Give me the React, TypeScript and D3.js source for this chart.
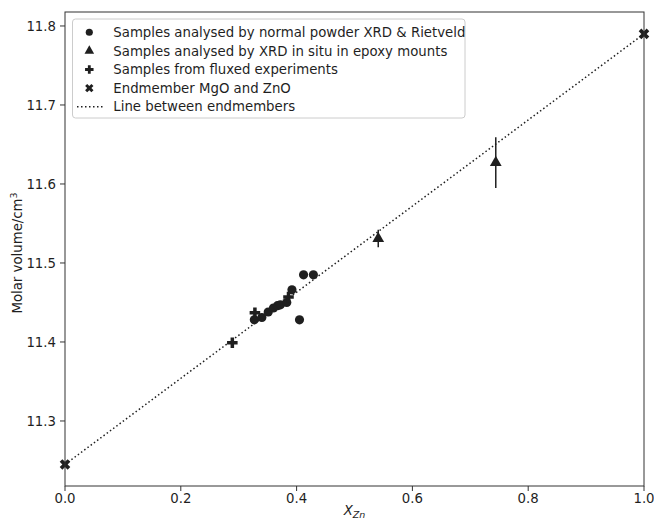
import React from "react";
import * as d3 from "d3";

const circleX = [0.327, 0.34, 0.351, 0.36, 0.367, 0.372, 0.383, 0.392, 0.405, 0.412, 0.429];
const circleY = [11.428, 11.431, 11.438, 11.443, 11.446, 11.447, 11.45, 11.466, 11.428, 11.485, 11.485];

const triX = [0.541, 0.744];
const triY = [11.531, 11.627];
const triErr = [0.011, 0.032];

const plusX = [0.289, 0.328, 0.386];
const plusY = [11.399, 11.437, 11.457];

const endX = [0, 1];
const endY = [11.245, 11.79];

const xTicks = [0, 0.2, 0.4, 0.6, 0.8, 1.0];
const yTicks = [11.3, 11.4, 11.5, 11.6, 11.7, 11.8];

const legendLabels = [
  "Samples analysed by normal powder XRD & Rietveld",
  "Samples analysed by XRD in situ in epoxy mounts",
  "Samples from fluxed experiments",
  "Endmember MgO and ZnO",
  "Line between endmembers",
];

const W = 654;
const H = 521;
const M = { left: 65, right: 644, top: 12, bottom: 486 };
const INK = "#1f1f1f";
const FONT = "DejaVu Sans, sans-serif";
const FS = 13.3;

export default function App() {
  const x = d3.scaleLinear().domain([0, 1]).range([M.left, M.right]);
  const y = d3.scaleLinear().domain([11.2177, 11.8177]).range([M.bottom, M.top]);

  const circ = d3.symbol().type(d3.symbolCircle).size(66)()!;
  const tri = d3.symbol().type(d3.symbolTriangle).size(60)()!;
  const cross = d3.symbol().type(d3.symbolCross).size(62)()!;
  const xs = d3.symbol().type(d3.symbolCross).size(70)()!;

  const line = d3.line<number>().x((_, i) => x(endX[i])).y((v) => y(v));

  const legX = 72.5;
  const legY = 19;
  const rowH = 18.6;

  return (
    <svg width={W} height={H} style={{ position: "absolute", left: 0, top: 0, fontFamily: FONT }}>
      <rect x={0} y={0} width={W} height={H} fill="#fff" />
      <path d={line(endY)!} fill="none" stroke={INK} strokeWidth={1.5} strokeDasharray="1.5,2.5" />
      {triX.map((v, i) => (
        <line key={"e" + i} x1={x(v)} x2={x(v)} y1={y(triY[i] - triErr[i])} y2={y(triY[i] + triErr[i])} stroke={INK} strokeWidth={1.5} />
      ))}
      {circleX.map((v, i) => (
        <path key={"c" + i} d={circ} transform={`translate(${x(v)},${y(circleY[i])})`} fill={INK} />
      ))}
      {triX.map((v, i) => (
        <path key={"t" + i} d={tri} transform={`translate(${x(v)},${y(triY[i])})`} fill={INK} />
      ))}
      {plusX.map((v, i) => (
        <path key={"p" + i} d={cross} transform={`translate(${x(v)},${y(plusY[i])})`} fill={INK} />
      ))}
      {endX.map((v, i) => (
        <path key={"x" + i} d={xs} transform={`translate(${x(v)},${y(endY[i])}) rotate(45)`} fill={INK} />
      ))}
      <rect x={M.left} y={M.top} width={M.right - M.left} height={M.bottom - M.top} fill="none" stroke="#333" strokeWidth={1} />
      {xTicks.map((t) => (
        <g key={"xt" + t}>
          <line x1={x(t)} x2={x(t)} y1={M.bottom} y2={M.bottom + 5} stroke="#333" />
          <text x={x(t)} y={503} textAnchor="middle" fontSize={FS} fill={INK}>
            {t.toFixed(1)}
          </text>
        </g>
      ))}
      {yTicks.map((t) => (
        <g key={"yt" + t}>
          <line x1={M.left - 5} x2={M.left} y1={y(t)} y2={y(t)} stroke="#333" />
          <text x={56} y={y(t)} dy="0.36em" textAnchor="end" fontSize={FS} fill={INK}>
            {t.toFixed(1)}
          </text>
        </g>
      ))}
      <text x={(M.left + M.right) / 2} y={515} textAnchor="middle" fontSize={FS} fill={INK}>
        <tspan fontStyle="italic">X</tspan>
        <tspan fontStyle="italic" fontSize={9.5} dy={3}>Zn</tspan>
      </text>
      <text transform={`translate(22,${(M.top + M.bottom) / 2 + 4}) rotate(-90)`} textAnchor="middle" fontSize={FS} fill={INK}>
        Molar volume/cm<tspan fontSize={9.5} dy={-5}>3</tspan>
      </text>
      <rect x={legX} y={legY} width={392.5} height={99} rx={3} fill="#fff" fillOpacity={0.8} stroke="#ccc" strokeWidth={1} />
      {legendLabels.map((lab, i) => {
        const cy = legY + 13.3 + i * rowH;
        const mx = 89.3;
        let marker: React.ReactNode = null;
        if (i === 0) marker = <path d={d3.symbol().type(d3.symbolCircle).size(40)()!} transform={`translate(${mx},${cy})`} fill={INK} />;
        if (i === 1) marker = <path d={d3.symbol().type(d3.symbolTriangle).size(40)()!} transform={`translate(${mx},${cy})`} fill={INK} />;
        if (i === 2) marker = <path d={d3.symbol().type(d3.symbolCross).size(40)()!} transform={`translate(${mx},${cy})`} fill={INK} />;
        if (i === 3) marker = <path d={d3.symbol().type(d3.symbolCross).size(44)()!} transform={`translate(${mx},${cy}) rotate(45)`} fill={INK} />;
        if (i === 4) marker = <line x1={77} x2={102.5} y1={cy} y2={cy} stroke={INK} strokeWidth={1.5} strokeDasharray="1.5,2.5" />;
        return (
          <g key={"l" + i}>
            {marker}
            <text x={113.3} y={cy} dy="0.36em" fontSize={FS} fill={INK}>
              {lab}
            </text>
          </g>
        );
      })}
    </svg>
  );
}
